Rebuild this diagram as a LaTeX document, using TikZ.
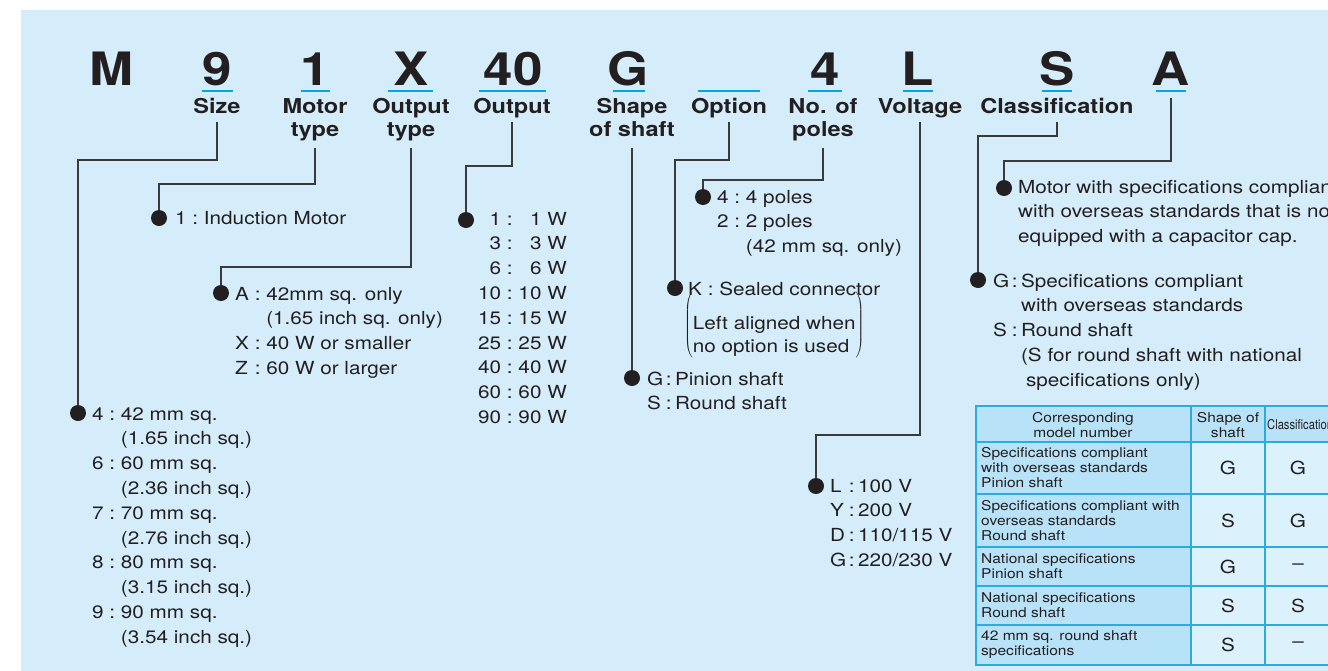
\documentclass[tikz,border=0pt]{standalone}
\usepackage{fontspec}
\setmainfont{TeX Gyre Heros}[FakeStretch=1.15]
\usepackage{graphicx}
\definecolor{ink}{HTML}{231F20}
\definecolor{linec}{HTML}{3A3A3A}
\definecolor{ucyan}{HTML}{00A6E6}
\definecolor{bgblue}{HTML}{D5EDFA}
\definecolor{hdrblue}{HTML}{B8E2F7}
\definecolor{cellblue}{HTML}{DBF1FC}
\definecolor{gridc}{HTML}{2BABE2}
\newcommand\stk[1]{\begin{tabular}[t]{@{}c@{}}#1\end{tabular}}
\newcommand\lst[1]{\begin{tabular}[t]{@{}l@{\ }c@{\ }l@{}}#1\end{tabular}}
\newcommand\lstg[1]{\begin{tabular}[t]{@{}l@{\hspace{2.5pt}}c@{\hspace{3.5pt}}l@{}}#1\end{tabular}}
\newcommand\rlst[1]{\begin{tabular}[t]{@{}r@{\ }c@{\ }r@{}}#1\end{tabular}}
\newcommand\llst[1]{\begin{tabular}[t]{@{}l@{}}#1\end{tabular}}
\newcommand\mylead[4]{\draw[conn] (#1.south |- 0,#2) -- (#1.south |- 0,#3) -| (#4);}
\tikzset{
  txt/.style={text=ink, inner sep=0pt, font=\fontsize{18}{24.8}\selectfont},
  big/.style={text=ink, inner sep=0pt, font=\fontsize{46}{50}\selectfont\bfseries},
  lab/.style={text=ink, inner sep=0pt, font=\fontsize{20.5}{23}\selectfont\bfseries},
  dot/.style={circle, fill=ink, inner sep=0pt, minimum size=16pt},
  conn/.style={draw=linec, line width=1.1pt},
  uline/.style={draw=ucyan, line width=2.6pt},
  tab/.style={text=ink, inner sep=0pt, font=\fontsize{13.5}{15}\selectfont},
  cellL/.style={text=ink, inner sep=0pt, font=\fontsize{18}{20}\selectfont},
  gridline/.style={draw=gridc, line width=1.2pt},
}
\begin{document}
\begin{tikzpicture}[x=1pt, y=-1pt]
\clip (0,0) rectangle (1328,670);
\fill[white] (0,0) rectangle (1328,670);
\fill[bgblue] (21,10) rectangle (1340,680);

% big code letters
\node[big, anchor=base] (nM) at (112,85) {M};
\node[big, anchor=base] (n9) at (217,85) {9};
\node[big, anchor=base] (n1) at (315,85) {1};
\node[big, anchor=base] (nX) at (411,85) {X};
\node[big, anchor=base] (n40) at (513,85) {40};
\node[big, anchor=base] (nG) at (628,85) {G};
\node[big, anchor=base] (n4) at (825,85) {4};
\node[big, anchor=base] (nL) at (918,85) {L};
\node[big, anchor=base] (nS) at (1057,85) {S};
\node[big, anchor=base] (nA) at (1171,85) {A};

% underlines
\draw[uline] (202,91) -- (233,91);
\draw[uline] (301,91) -- (330,91);
\draw[uline] (388,91) -- (433,91);
\draw[uline] (479,91) -- (546,91);
\draw[uline] (613,91) -- (645,91);
\draw[uline] (698,91) -- (760,91);
\draw[uline] (808,91) -- (842,91);
\draw[uline] (903,91) -- (933,91);
\draw[uline] (1042,91) -- (1072,91);
\draw[uline] (1156,91) -- (1186,91);

% labels
\node[lab, anchor=base] (lSize) at (217,113) {Size};
\node[lab, anchor=base] (lMotor) at (315,113) {\stk{Motor\\type}};
\node[lab, anchor=base] (lOutT) at (411,113) {\stk{Output\\type}};
\node[lab, anchor=base] (lOut) at (512,113) {Output};
\node[lab, anchor=base] (lShape) at (632,113) {\stk{Shape\\of shaft}};
\node[lab, anchor=base] (lOpt) at (729,113) {Option};
\node[lab, anchor=base] (lPoles) at (823,113) {\stk{No. of\\poles}};
\node[lab, anchor=base] (lVolt) at (920,113) {Voltage};
\node[lab, anchor=base] (lClass) at (1057,113) {Classification};

% dots
\node[dot] (dSize) at (78,413) {};
\node[dot] (dMotor) at (159,218) {};
\node[dot] (dOutT) at (221,293) {};
\node[dot] (dOut) at (466,220) {};
\node[dot] (dShape) at (632,378) {};
\node[dot] (dOpt) at (675,288) {};
\node[dot] (dPoles) at (703,197) {};
\node[dot] (dVolt) at (816,486) {};
\node[dot] (dClass) at (978,280) {};
\node[dot] (dA) at (1004,188) {};

% connectors
\mylead{lSize}{122}{160}{dSize}
\mylead{lMotor}{148}{184}{dMotor}
\mylead{lOutT}{148}{267}{dOutT}
\mylead{lOut}{122}{166}{dOut}
\draw[conn] (lShape.south |- 0,148) -- (dShape);
\mylead{lOpt}{122}{160}{dOpt}
\mylead{lPoles}{148}{180}{dPoles}
\mylead{lVolt}{122}{435}{dVolt}
\mylead{lClass}{122}{136}{dClass}
\mylead{nA}{98}{161}{dA}

% lists
\node[txt, anchor=base west] (tSize) at (92,420) {\lst{
4 & : & 42 mm sq.\\ & & (1.65 inch sq.)\\
6 & : & 60 mm sq.\\ & & (2.36 inch sq.)\\
7 & : & 70 mm sq.\\ & & (2.76 inch sq.)\\
8 & : & 80 mm sq.\\ & & (3.15 inch sq.)\\
9 & : & 90 mm sq.\\ & & (3.54 inch sq.)}};
\node[txt, anchor=base west] (tMotor) at (175,224) {\lst{1 & : & Induction Motor}};
\node[txt, anchor=base west] (tOutT) at (235,300) {\lst{
A & : & 42mm sq. only\\ & & (1.65 inch sq. only)\\
X & : & 40 W or smaller\\
Z & : & 60 W or larger}};
\node[txt, anchor=base east] (tOut) at (567,225) {\rlst{
1 & : & 1 W\\ 3 & : & 3 W\\ 6 & : & 6 W\\ 10 & : & 10 W\\ 15 & : & 15 W\\
25 & : & 25 W\\ 40 & : & 40 W\\ 60 & : & 60 W\\ 90 & : & 90 W}};
\node[txt, anchor=base west] (tPoles) at (717,203) {\lst{
4 & : & 4 poles\\ 2 & : & 2 poles\\ & & (42 mm sq. only)}};
\node[txt, anchor=base west] (tOpt) at (688,295) {\lst{K & : & Sealed connector}};
\node[txt, anchor=west, font=\fontsize{18}{23}\selectfont] (tOptNote) at (684,326)
  {$\left(\mbox{\llst{Left aligned when\\no option is used}}\right)$};
\node[txt, anchor=base west] (tShape) at (647,385) {\lstg{
G & : & Pinion shaft\\ S & : & Round shaft}};
\node[txt, anchor=base west] (tVolt) at (830,492) {\lstg{
L & : & 100 V\\ Y & : & 200 V\\ D & : & 110/115 V\\ G & : & 220/230 V}};
\node[txt, anchor=base west] (tClass) at (993,287) {\lstg{
G & : & Specifications compliant\\ & & with overseas standards\\
S & : & Round shaft\\ & & (S for round shaft with national\\
 & & \hspace{5pt}specifications only)}};
\node[txt, anchor=base west] (tA) at (1018,193) {\llst{
Motor with specifications compliant\\with overseas standards that is not\\equipped with a capacitor cap.}};

% table
\fill[hdrblue] (976,406) rectangle (1332,442);
\fill[hdrblue] (976,442) rectangle (1191,665);
\fill[cellblue] (1191,442) rectangle (1332,665);
\draw[gridline] (976,406) rectangle (1332,665);
\foreach \yy in {442,494,547,586,625} \draw[gridline] (976,\yy) -- (1332,\yy);
\draw[gridline] (1191,406) -- (1191,665);
\draw[gridline] (1265,406) -- (1265,665);

\node[tab, align=center] (h1) at (1083,425) {Corresponding\\model number};
\node[tab, align=center] (h2) at (1228,425) {Shape of\\shaft};
\node[tab, anchor=base west] (h3) at (1267,429) {\scalebox{0.72}[1]{Classification}};

\node[tab, anchor=west, align=left] (r1) at (981,468) {Specifications compliant\\with overseas standards\\Pinion shaft};
\node[tab, anchor=west, align=left] (r2) at (981,520.5) {Specifications compliant with\\overseas standards\\Round shaft};
\node[tab, anchor=west, align=left] (r3) at (981,566.5) {National specifications\\Pinion shaft};
\node[tab, anchor=west, align=left] (r4) at (981,605.5) {National specifications\\Round shaft};
\node[tab, anchor=west, align=left] (r5) at (981,645) {42 mm sq. round shaft\\specifications};

\node[cellL] (c12) at (1228,468) {G};
\node[cellL] (c13) at (1298,468) {G};
\node[cellL] (c22) at (1228,520.5) {S};
\node[cellL] (c23) at (1298,520.5) {G};
\node[cellL] (c32) at (1228,566.5) {G};
\node[cellL] (c33) at (1298,566.5) {--};
\node[cellL] (c42) at (1228,605.5) {S};
\node[cellL] (c43) at (1298,605.5) {S};
\node[cellL] (c52) at (1228,645) {S};
\node[cellL] (c53) at (1298,645) {--};
\end{tikzpicture}
\end{document}
